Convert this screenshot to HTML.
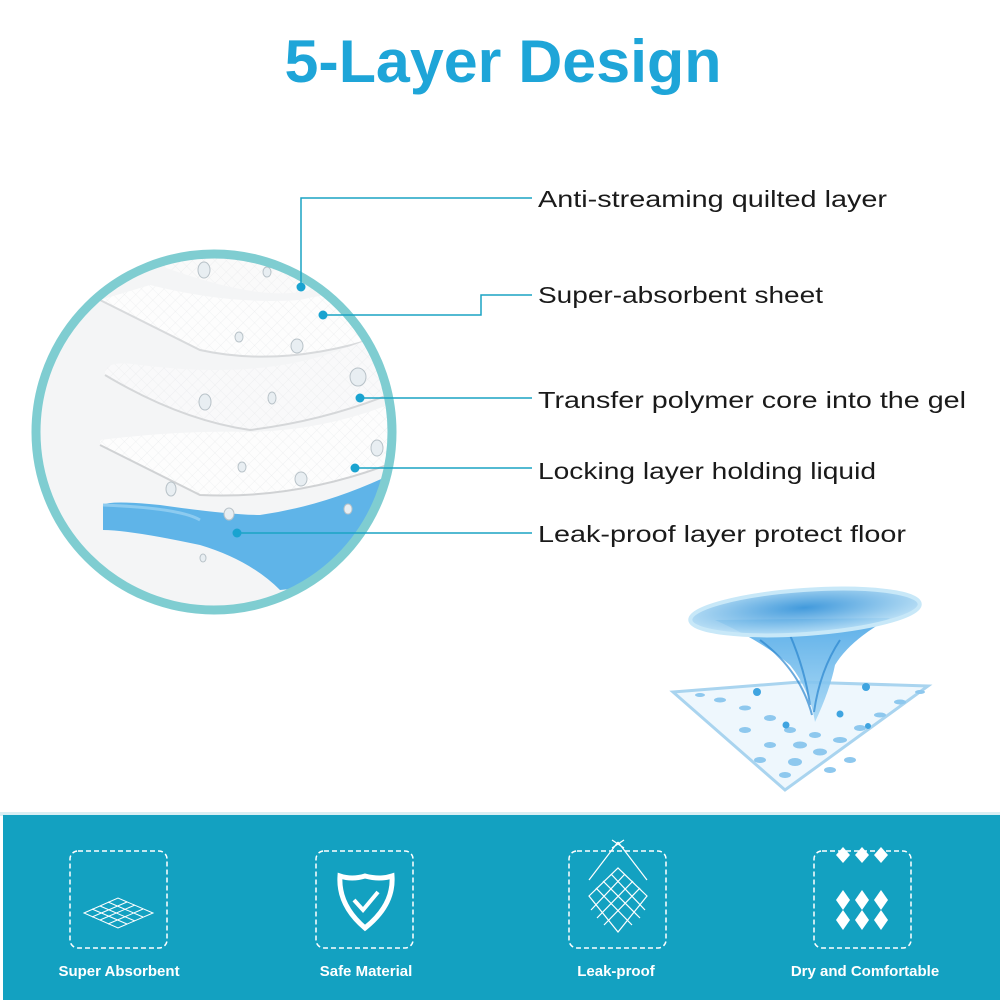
<!DOCTYPE html>
<html><head><meta charset="utf-8"><style>
html,body{margin:0;padding:0;background:#fff;}
svg{display:block;}
</style></head><body>
<svg width="1000" height="1000" viewBox="0 0 1000 1000" xmlns="http://www.w3.org/2000/svg">
<defs>
<clipPath id="cc"><circle cx="214" cy="432" r="176"/></clipPath>
<pattern id="grid" width="8" height="8" patternUnits="userSpaceOnUse" patternTransform="rotate(45)">
<path d="M0 0H8M0 0V8" stroke="#e6e8ea" stroke-width="0.6" fill="none"/></pattern>
<radialGradient id="tw" cx="0.5" cy="0.4" r="0.6"><stop offset="0" stop-color="#2d8fd8"/><stop offset="1" stop-color="#bfe3f7"/></radialGradient>
<linearGradient id="fn" x1="0" y1="0" x2="0" y2="1"><stop offset="0" stop-color="#4aa6e6"/><stop offset="1" stop-color="#a8d8f5"/></linearGradient>
</defs>
<rect width="1000" height="1000" fill="#fff"/>
<text x="503" y="82" text-anchor="middle" font-family="Liberation Sans, sans-serif" font-weight="bold" font-size="60" fill="#1ea5d8" textLength="437" lengthAdjust="spacingAndGlyphs">5-Layer Design</text>

<g clip-path="url(#cc)">
<rect x="30" y="250" width="380" height="370" fill="#f4f5f6"/>
<path d="M150 262 Q250 300 300 292 Q350 285 400 270 L400 250 L150 250 Z" fill="#fafafa"/>
<path d="M150 262 Q250 300 300 292 Q350 285 400 270 L400 250 L150 250 Z" fill="url(#grid)"/>
<path d="M100 300 L200 350 Q290 370 400 330 L400 290 Q340 290 300 300 Q230 305 150 285 Z" fill="#fdfdfd"/>
<path d="M100 300 L200 350 Q290 370 400 330 L400 290 Q340 290 300 300 Q230 305 150 285 Z" fill="url(#grid)"/>
<path d="M100 300 L200 350 Q290 370 400 330" stroke="#d8dadc" stroke-width="2" fill="none"/>
<path d="M105 370 Q110 360 140 365 Q260 380 340 350 Q380 335 400 330 L400 390 Q330 420 250 430 Q180 420 105 375 Z" fill="#f9f9fa"/>
<path d="M105 370 Q110 360 140 365 Q260 380 340 350 Q380 335 400 330 L400 390 Q330 420 250 430 Q180 420 105 375 Z" fill="url(#grid)"/>
<path d="M105 375 Q180 420 250 430 Q330 420 400 390" stroke="#d5d7d9" stroke-width="2" fill="none"/>
<path d="M100 445 L200 495 Q300 500 400 460 L400 400 Q330 430 250 432 Q180 430 100 440 Z" fill="#fdfdfd"/>
<path d="M100 445 L200 495 Q300 500 400 460 L400 400 Q330 430 250 432 Q180 430 100 440 Z" fill="url(#grid)"/>
<path d="M100 445 L200 495 Q300 500 400 460" stroke="#d0d2d4" stroke-width="2" fill="none"/>
<path d="M103 505 Q110 500 160 505 Q230 515 260 515 Q330 505 400 470 L400 560 Q340 585 280 590 Q250 560 200 545 Q130 530 103 530 Z" fill="#5fb4e8"/>
<path d="M103 505 Q180 508 200 520" stroke="#8ccbf0" stroke-width="3" fill="none"/>
<g fill="#e8eef2" stroke="#b8c2c8" stroke-width="1">
<ellipse cx="204" cy="270" rx="6" ry="8"/><ellipse cx="267" cy="272" rx="4" ry="5"/>
<ellipse cx="239" cy="337" rx="4" ry="5"/><ellipse cx="297" cy="346" rx="6" ry="7"/>
<ellipse cx="358" cy="377" rx="8" ry="9"/><ellipse cx="205" cy="402" rx="6" ry="8"/>
<ellipse cx="272" cy="398" rx="4" ry="6"/><ellipse cx="242" cy="467" rx="4" ry="5"/>
<ellipse cx="301" cy="479" rx="6" ry="7"/><ellipse cx="377" cy="448" rx="6" ry="8"/>
<ellipse cx="171" cy="489" rx="5" ry="7"/><ellipse cx="229" cy="514" rx="5" ry="6"/>
<ellipse cx="203" cy="558" rx="3" ry="4"/><ellipse cx="348" cy="509" rx="4" ry="5"/>
</g>
</g>
<circle cx="214" cy="432" r="178" fill="none" stroke="#7fcdd1" stroke-width="9"/>

<g stroke="#1aa3c4" stroke-width="1.5" fill="none">
<path d="M301 287 V198 H532"/>
<path d="M323 315 H481 V295 H532"/>
<path d="M360 398 H532"/>
<path d="M355 468 H532"/>
<path d="M237 533 H532"/>
</g>
<g fill="#1aa3d0">
<circle cx="301" cy="287" r="4.5"/><circle cx="323" cy="315" r="4.5"/>
<circle cx="360" cy="398" r="4.5"/><circle cx="355" cy="468" r="4.5"/><circle cx="237" cy="533" r="4.5"/>
</g>
<g font-family="Liberation Sans, sans-serif" font-size="23" fill="#1a1a1a">
<text x="538" y="207" textLength="349" lengthAdjust="spacingAndGlyphs">Anti-streaming quilted layer</text>
<text x="538" y="303" textLength="285" lengthAdjust="spacingAndGlyphs">Super-absorbent sheet</text>
<text x="538" y="408" textLength="428" lengthAdjust="spacingAndGlyphs">Transfer polymer core into the gel</text>
<text x="538" y="479" textLength="338" lengthAdjust="spacingAndGlyphs">Locking layer holding liquid</text>
<text x="538" y="542" textLength="368" lengthAdjust="spacingAndGlyphs">Leak-proof layer protect floor</text>
</g>

<!-- mesh -->
<path d="M673 692 L800 682 L928 686 L785 790 Z" fill="#eef7fd" stroke="#a9d4ef" stroke-width="3"/>
<g fill="#8ec8ee">
<ellipse cx="720" cy="700" rx="6" ry="2.5"/><ellipse cx="745" cy="708" rx="6" ry="2.5"/><ellipse cx="770" cy="718" rx="6" ry="3"/>
<ellipse cx="790" cy="730" rx="6" ry="3"/><ellipse cx="800" cy="745" rx="7" ry="3.5"/><ellipse cx="795" cy="762" rx="7" ry="4"/>
<ellipse cx="820" cy="752" rx="7" ry="3.5"/><ellipse cx="840" cy="740" rx="7" ry="3"/><ellipse cx="860" cy="728" rx="6" ry="3"/>
<ellipse cx="880" cy="715" rx="6" ry="2.5"/><ellipse cx="900" cy="702" rx="6" ry="2.5"/><ellipse cx="770" cy="745" rx="6" ry="3"/>
<ellipse cx="760" cy="760" rx="6" ry="3"/><ellipse cx="830" cy="770" rx="6" ry="3"/><ellipse cx="745" cy="730" rx="6" ry="3"/>
<ellipse cx="850" cy="760" rx="6" ry="3"/><ellipse cx="785" cy="775" rx="6" ry="3"/>
<ellipse cx="700" cy="695" rx="5" ry="2"/><ellipse cx="920" cy="692" rx="5" ry="2"/><ellipse cx="815" cy="735" rx="6" ry="3"/>
</g>
<!-- tornado -->
<path d="M715 620 Q760 640 790 665 Q810 690 815 722 Q830 690 835 665 Q850 640 890 618 Z" fill="url(#fn)" opacity="0.9"/>
<path d="M760 640 Q800 670 812 715 M840 640 Q820 670 814 712 M790 635 Q805 670 810 705" stroke="#2b86cf" stroke-width="2" fill="none" opacity="0.7"/>
<ellipse cx="805" cy="612" rx="115" ry="22" transform="rotate(-4 805 612)" fill="url(#tw)" opacity="0.9"/>
<ellipse cx="805" cy="612" rx="115" ry="22" transform="rotate(-4 805 612)" fill="none" stroke="#c8e8f8" stroke-width="4"/>
<g fill="#3fa4e0"><circle cx="757" cy="692" r="4"/><circle cx="866" cy="687" r="4"/><circle cx="786" cy="725" r="3.5"/><circle cx="840" cy="714" r="3.5"/><circle cx="868" cy="726" r="3"/></g>

<rect x="0" y="812" width="1000" height="4" fill="#d9eef3"/>
<rect x="3" y="815" width="997" height="185" fill="#13a1c1"/>
<g fill="none" stroke="#fff" stroke-width="1.5" stroke-dasharray="5 3">
<rect x="70" y="851" width="97" height="97" rx="8"/>
<rect x="316" y="851" width="97" height="97" rx="8"/>
<rect x="569" y="851" width="97" height="97" rx="8"/>
<rect x="814" y="851" width="97" height="97" rx="8"/>
</g>
<g stroke="#fff" stroke-width="1" fill="none">
<path d="M84 913 L118 898 L153 913 L118 928 Z"/>
<path d="M92 909 L127 924 M100 906 L135 921 M108 902 L143 917 M92 917 L127 902 M100 920 L135 905 M108 924 L143 909"/>
</g>
<path d="M365 876 Q380 880 392 876 Q394 905 365 928 Q338 905 340 876 Q352 880 365 876 Z" fill="none" stroke="#fff" stroke-width="5"/>
<path d="M354 900 L363 910 L378 892" fill="none" stroke="#fff" stroke-width="4"/>
<g stroke="#fff" stroke-width="1.2" fill="none">
<path d="M618 842 L589 880 M618 842 L647 880 M612 840 L624 848 M624 840 L612 848"/>
<path d="M589 896 L618 868 L647 896 L618 932 Z"/>
<path d="M596 888 L632 925 M603 881 L640 918 M611 874 L645 910 M640 888 L604 925 M633 881 L597 918 M625 874 L591 910"/>
</g>
<g fill="#fff">
<path d="M843 847 l7 8 -7 8 -7 -8z"/><path d="M862 847 l7 8 -7 8 -7 -8z"/><path d="M881 847 l7 8 -7 8 -7 -8z"/>
<path d="M843 890 l7 10 -7 10 -7 -10z"/><path d="M862 890 l7 10 -7 10 -7 -10z"/><path d="M881 890 l7 10 -7 10 -7 -10z"/>
<path d="M843 910 l7 10 -7 10 -7 -10z"/><path d="M862 910 l7 10 -7 10 -7 -10z"/><path d="M881 910 l7 10 -7 10 -7 -10z"/>
</g>
<g font-family="Liberation Sans, sans-serif" font-weight="bold" font-size="15" fill="#fff" text-anchor="middle">
<text x="119" y="976">Super Absorbent</text>
<text x="366" y="976">Safe Material</text>
<text x="616" y="976">Leak-proof</text>
<text x="865" y="976">Dry and Comfortable</text>
</g>
</svg>
</body></html>
